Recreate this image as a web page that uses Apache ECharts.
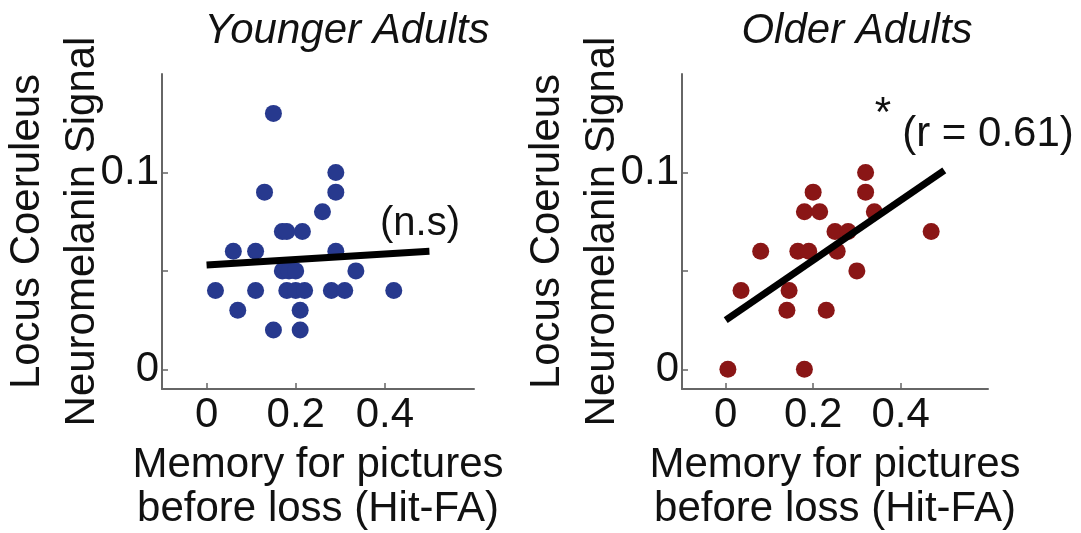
<!DOCTYPE html>
<html>
<head>
<meta charset="utf-8">
<script src="https://cdn.jsdelivr.net/npm/echarts@6/dist/echarts.min.js"></script>
<style>
html,body{margin:0;padding:0;background:#fff;}
#chart{width:1081px;height:533px;}
</style>
</head>
<body>
<div id="chart"></div>
<script>
// ---- data ----
const panelTitles = ['Younger Adults', 'Older Adults'];
const xAxisName = 'Memory for pictures\nbefore loss (Hit-FA)';
const yAxisName = 'Locus Coeruleus\nNeuromelanin Signal';

const youngX = [0.15, 0.13, 0.29, 0.29, 0.26, 0.17, 0.18, 0.215, 0.06, 0.11, 0.29, 0.17, 0.185, 0.20, 0.335,
                0.02, 0.11, 0.18, 0.20, 0.22, 0.28, 0.31, 0.42, 0.07, 0.21, 0.15, 0.21];
const youngY = [0.13, 0.09, 0.10, 0.09, 0.08, 0.07, 0.07, 0.07, 0.06, 0.06, 0.06, 0.05, 0.05, 0.05, 0.05,
                0.04, 0.04, 0.04, 0.04, 0.04, 0.04, 0.04, 0.04, 0.03, 0.03, 0.02, 0.02];

const olderX = [0.32, 0.32, 0.20, 0.18, 0.215, 0.34, 0.25, 0.28, 0.47, 0.08, 0.165, 0.19, 0.255, 0.30,
                0.035, 0.145, 0.14, 0.23, 0.005, 0.18];
const olderY = [0.10, 0.09, 0.09, 0.08, 0.08, 0.08, 0.07, 0.07, 0.07, 0.06, 0.06, 0.06, 0.06, 0.05,
                0.04, 0.04, 0.03, 0.03, 0.00, 0.00];

const fitX = [0, 0.5];
const youngFitY = [0.053, 0.060];
const olderFitY = [0.025, 0.101];

const xTickValues = [0, 0.2, 0.4];
const yTickValues = [0, 0.05, 0.1];
const yLabelValues = [0, 0.1];

const youngNote = '(n.s)';
const olderStar = '*';
const olderNote = '(r = 0.61)';

// ---- chart ----
const FONT = '"Liberation Sans", Arial, Helvetica, sans-serif';
const TXT = '#111';
const AX = '#666';

function pairs(xs, ys){ return xs.map((x, i) => [x, ys[i]]); }

function makeX(gi){
  return {
    type: 'value', gridIndex: gi, min: -0.1, max: 0.6,
    axisLine: {show: true, onZero: false, lineStyle: {color: AX, width: 2}},
    axisTick: {show: true, inside: true, length: 6, customValues: xTickValues, lineStyle: {color: AX, width: 1.5}},
    axisLabel: {customValues: xTickValues, margin: 5, fontSize: 42, color: TXT, fontFamily: FONT},
    splitLine: {show: false},
    name: xAxisName, nameLocation: 'middle', nameGap: 54,
    nameTextStyle: {fontSize: 42, lineHeight: 44, color: TXT, fontFamily: FONT}
  };
}
function makeY(gi){
  return {
    type: 'value', gridIndex: gi, min: -0.01, max: 0.15,
    axisLine: {show: true, onZero: false, lineStyle: {color: AX, width: 2}},
    axisTick: {show: true, inside: true, length: 6, customValues: yTickValues, lineStyle: {color: AX, width: 1.5}},
    axisLabel: {customValues: yLabelValues, margin: 3, fontSize: 42, color: TXT, fontFamily: FONT},
    splitLine: {show: false},
    name: yAxisName, nameLocation: 'middle', nameRotate: 90, nameGap: 52, nameMoveOverlap: false,
    nameTextStyle: {fontSize: 42, lineHeight: 55, color: TXT, fontFamily: FONT}
  };
}

const chart = echarts.init(document.getElementById('chart'), null, {renderer: 'canvas'});
chart.setOption({
  backgroundColor: '#fff',
  animation: false,
  grid: [
    {left: 162, top: 74, width: 312, height: 315, containLabel: false, outerBoundsMode: 'none'},
    {left: 682, top: 74, width: 306, height: 315, containLabel: false, outerBoundsMode: 'none'}
  ],
  xAxis: [makeX(0), makeX(1)],
  yAxis: [makeY(0), makeY(1)],
  series: [
    {type: 'scatter', xAxisIndex: 0, yAxisIndex: 0, data: pairs(youngX, youngY), symbolSize: 17,
     itemStyle: {color: '#27398e', opacity: 1}, z: 2},
    {type: 'line', xAxisIndex: 0, yAxisIndex: 0, data: pairs(fitX, youngFitY), symbol: 'none',
     lineStyle: {color: '#000', width: 7}, z: 3},
    {type: 'scatter', xAxisIndex: 1, yAxisIndex: 1, data: pairs(olderX, olderY), symbolSize: 17,
     itemStyle: {color: '#8a1616', opacity: 1}, z: 2},
    {type: 'line', xAxisIndex: 1, yAxisIndex: 1, data: pairs(fitX, olderFitY), symbol: 'none',
     lineStyle: {color: '#000', width: 7}, z: 3}
  ],
  graphic: [
    {type: 'text', x: 347, y: 31, style: {text: panelTitles[0], font: 'italic 42px ' + FONT, fill: TXT, align: 'center', verticalAlign: 'middle'}},
    {type: 'text', x: 857, y: 31, style: {text: panelTitles[1], font: 'italic 42px ' + FONT, fill: TXT, align: 'center', verticalAlign: 'middle'}},
    {type: 'text', x: 420, y: 224, style: {text: youngNote, font: '40px ' + FONT, fill: TXT, align: 'center', verticalAlign: 'middle'}},
    {type: 'text', x: 883, y: 114, style: {text: olderStar, font: '42px ' + FONT, fill: TXT, align: 'center', verticalAlign: 'middle'}},
    {type: 'text', x: 988, y: 134, style: {text: olderNote, font: '42px ' + FONT, fill: TXT, align: 'center', verticalAlign: 'middle'}}
  ]
});
</script>
</body>
</html>
